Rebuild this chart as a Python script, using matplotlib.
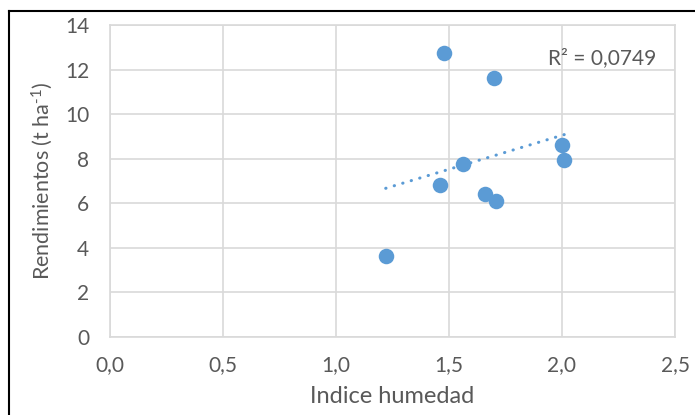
import matplotlib
matplotlib.use("Agg")
import matplotlib.pyplot as plt
from matplotlib.lines import Line2D
from matplotlib.ticker import FuncFormatter
import numpy as np

# data
indice_humedad = [1.22, 1.46, 1.48, 1.56, 1.66, 1.70, 1.71, 2.00, 2.01]
rendimientos = [3.63, 6.80, 12.75, 7.77, 6.43, 11.64, 6.10, 8.63, 7.95]
r2_label = "R² = 0,0749"
x_ticks = [0.0, 0.5, 1.0, 1.5, 2.0, 2.5]
y_ticks = [0, 2, 4, 6, 8, 10, 12, 14]

plt.rcParams['font.family'] = ['Lato', 'DejaVu Sans']
plt.rcParams['mathtext.fontset'] = 'custom'
plt.rcParams['mathtext.rm'] = 'Lato'
plt.rcParams['mathtext.it'] = 'Lato'
plt.rcParams['mathtext.default'] = 'regular'

gray = '#595959'
blue = '#5B9BD5'
grid = '#D9D9D9'

fig = plt.figure(figsize=(6.95, 4.15), dpi=100)
ax = fig.add_axes([110/695, 1 - 337/415, 565/695, 312/415])

ax.scatter(indice_humedad, rendimientos, s=125, color=blue, zorder=3, linewidths=0)

# linear trend line
coef = np.polyfit(indice_humedad, rendimientos, 1)
xs = np.array([min(indice_humedad), max(indice_humedad)])
ax.plot(xs, np.polyval(coef, xs), color=blue, lw=2.2,
        dashes=(0.1, 2.8), dash_capstyle='round', zorder=2)

ax.text(1.94, 12.5, r2_label, fontsize=15, color=gray, ha='left', va='center')

ax.set_xlim(0, 2.5)
ax.set_ylim(0, 14)
ax.set_xticks(x_ticks)
ax.set_yticks(y_ticks)
ax.xaxis.set_major_formatter(FuncFormatter(lambda v, p: f"{v:.1f}".replace('.', ',')))
ax.grid(True, color=grid, lw=1.2, zorder=0)
ax.set_axisbelow(True)
for s in ax.spines.values():
    s.set_color(grid)
    s.set_linewidth(1.2)
ax.tick_params(length=0, labelsize=15, labelcolor=gray)
ax.tick_params(axis='y', pad=15)
ax.tick_params(axis='x', pad=13)

ax.set_xlabel("Indice humedad", fontsize=17, color=gray, labelpad=8)
ax.set_ylabel(r"Rendimientos (t ha$^{\text{-1}}$)", fontsize=15.5, color=gray, labelpad=7)

# outer frame of the chart (top and left edges visible)
fig.add_artist(Line2D([9/695, 9/695], [0, 1 - 11/415], color='black', lw=1.5, transform=fig.transFigure))
fig.add_artist(Line2D([9/695, 1], [1 - 11/415, 1 - 11/415], color='black', lw=1.5, transform=fig.transFigure))

fig.savefig("out.png", dpi=100)
